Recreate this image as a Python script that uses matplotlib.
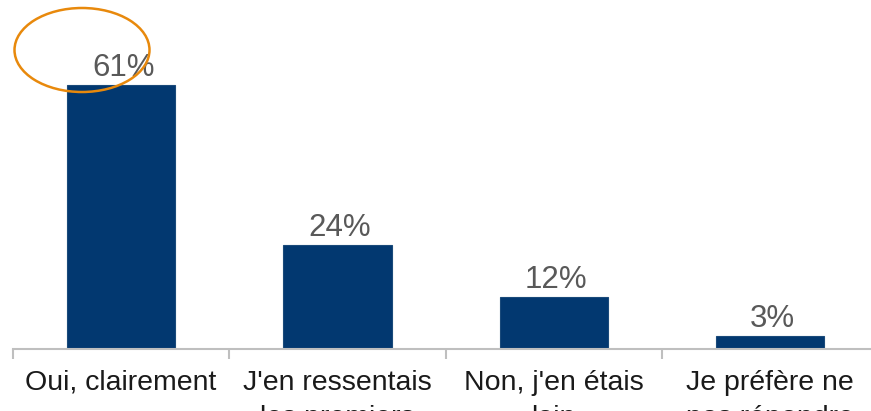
import matplotlib
matplotlib.use("Agg")
import matplotlib.pyplot as plt
from matplotlib.patches import Ellipse
from matplotlib import font_manager

categories = ["Oui, clairement", "J'en ressentais\nles premiers\nsignes", "Non, j'en étais\nloin", "Je préfère ne\npas répondre"]
values = [61, 24, 12, 3]
value_labels = ["61%", "24%", "12%", "3%"]

names = {f.name for f in font_manager.fontManager.ttflist}
label_font = ["Liberation Sans Narrow", "Liberation Sans", "DejaVu Sans"] if "Liberation Sans Narrow" in names else ["Liberation Sans", "DejaVu Sans"]
narrow = "Liberation Sans Narrow" in names

W, H = 871, 411
PX_PER_UNIT = 216.3
fig = plt.figure(figsize=(W / 100, H / 100), dpi=100)
base_y = 349
left_px = 13
ax = fig.add_axes([left_px / W, (H - base_y) / H, (W - left_px) / W, base_y / H])

x = list(range(len(values)))
ax.bar(x, values, width=0.5, color="#023870", edgecolor="#1a4a7a", linewidth=0.8, zorder=2)
for xi, v, lab in zip(x, values, value_labels):
    ax.text(xi + 0.01, v + 0.5, lab, ha="center", va="bottom", fontsize=22.5,
            color="#595959", family=["Liberation Sans", "DejaVu Sans"])

for s in ["top", "right", "left"]:
    ax.spines[s].set_visible(False)
ax.spines["bottom"].set_color("#BFBFBF")
ax.spines["bottom"].set_linewidth(1.5)
ax.set_yticks([])
ax.set_xticks([-0.5, 0.5, 1.5, 2.5])
ax.set_xticklabels([])
ax.tick_params(axis="x", length=7.5, width=1.5, color="#BFBFBF", direction="out")

ax.set_xlim(-0.5, -0.5 + (W - left_px) / PX_PER_UNIT)
ax.set_ylim(0, base_y / 4.33)

for xi, c in zip(x, categories):
    ax.text(xi, -4.8, c, ha="center", va="top", fontsize=(23 if narrow else 20.5), color="#1a1a1a",
            family=label_font, linespacing=1.48, clip_on=False)

ell = Ellipse((82 / W, 1 - 50 / H), 135 / W, 84 / H, transform=fig.transFigure,
              fill=False, edgecolor="#E8890C", linewidth=1.8, zorder=5)
fig.patches.append(ell)

fig.savefig("out.png", dpi=100)
